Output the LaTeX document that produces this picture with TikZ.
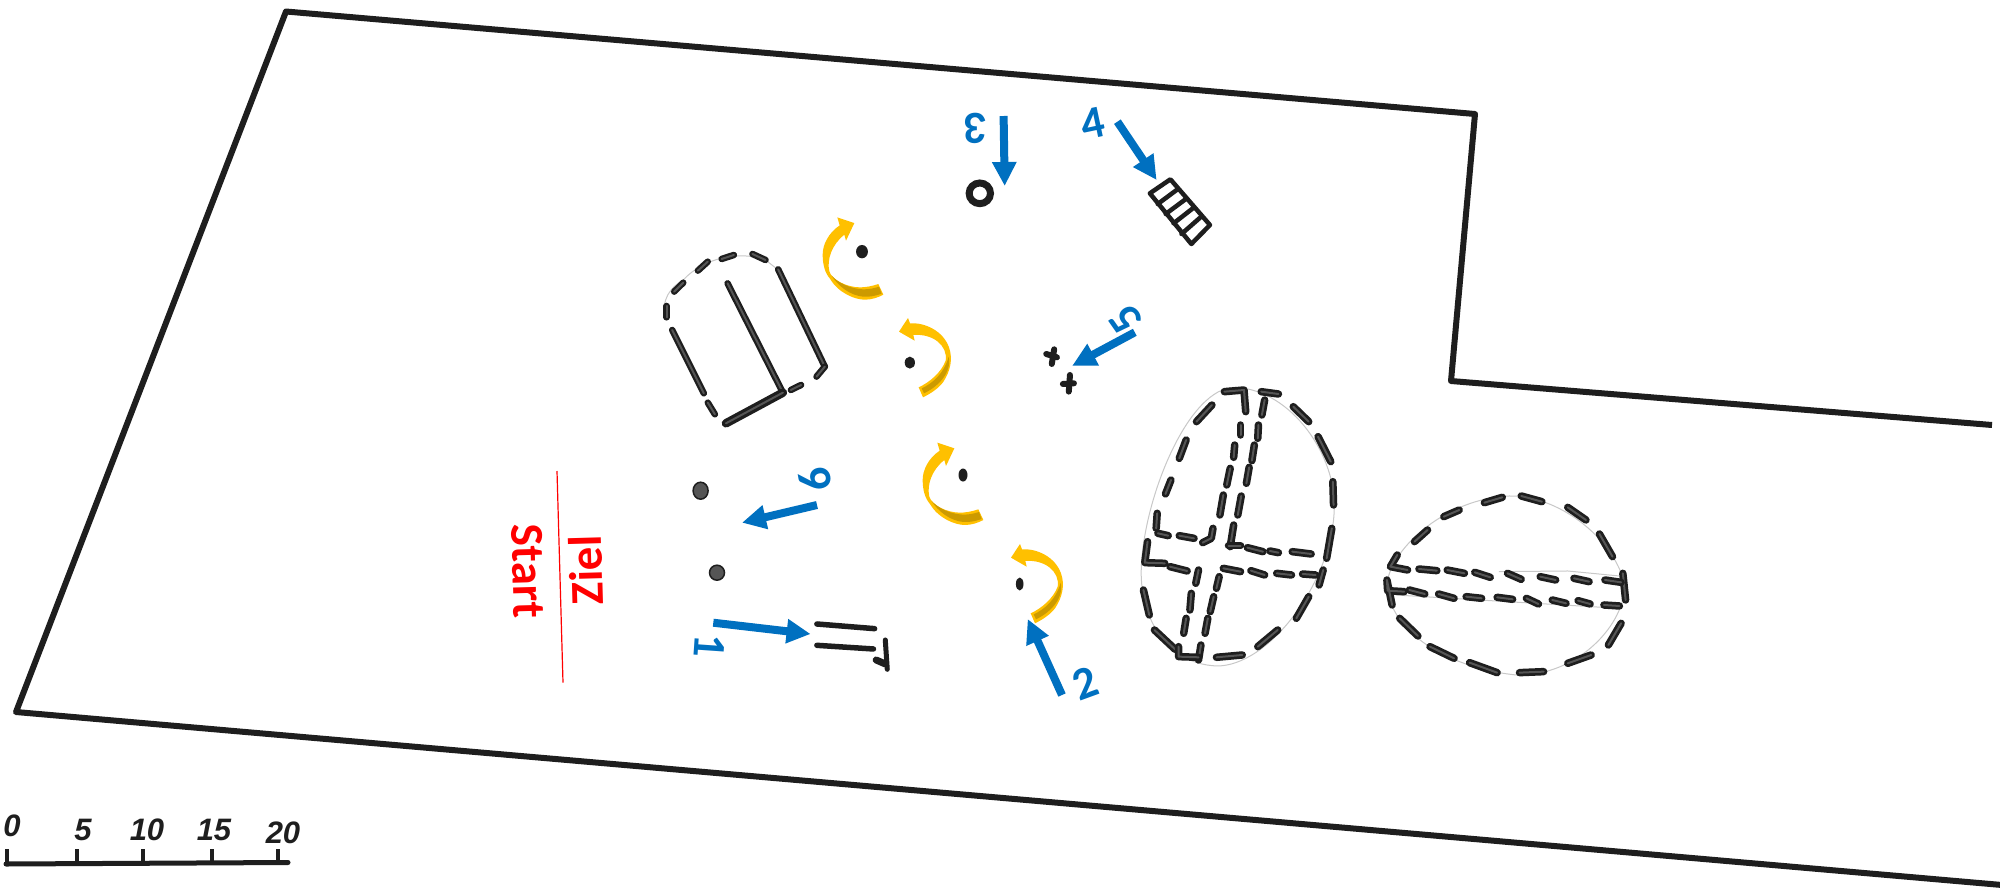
\documentclass[tikz,border=0pt]{standalone}
\usepackage{fontspec}
\setmainfont{Carlito}
\newfontfamily\handfont{Liberation Sans}
\usetikzlibrary{arrows.meta}
\definecolor{ink}{HTML}{1E1E1E}
\definecolor{inkmid}{HTML}{555555}
\definecolor{thin}{HTML}{C8C8C8}
\definecolor{bluearrow}{HTML}{0070C0}
\definecolor{yel}{HTML}{FFC000}
\definecolor{yeldark}{HTML}{CC9A00}
\tikzset{
  wall/.style={draw=ink,line width=6pt,line join=round},
  sk/.style={draw=ink,line width=7.5pt,line cap=round,line join=round,postaction={draw=inkmid,line width=2pt}},
  skthin/.style={draw=ink,line width=4.5pt,line cap=round,line join=round},
  faint/.style={draw=thin,line width=1pt},
  blueA/.style={draw=bluearrow,line width=8pt,-{Triangle[width=23pt,length=24pt]}},
  num/.style={text=bluearrow,font=\fontsize{46}{46}\selectfont\bfseries,inner sep=0pt},
  redtxt/.style={text=red,font=\fontsize{47}{47}\selectfont\bfseries,inner sep=0pt},
  hand/.style={text=ink,font=\handfont\fontsize{31}{31}\selectfont\bfseries\itshape,inner sep=0pt},
  zoomA/.style={shift={(620,80)},x=0.3954pt,y=-0.3333pt},
  zoomB/.style={shift={(1120,370)},x=0.3444pt,y=-0.3333pt},
  zoomC/.style={x=0.3333pt,y=-0.3333pt},
}
\newcommand{\yarrowup}{%
  \fill[yel] (133,55) -- (82,38) -- (89,62) .. controls (55,85) and (38,120) .. (38,150)
    .. controls (38,180) and (45,205) .. (60,222) .. controls (85,265) and (135,285) .. (165,285)
    .. controls (185,285) and (205,278) .. (220,270) -- (205,238)
    .. controls (185,245) and (165,248) .. (150,248) .. controls (110,248) and (65,225) .. (58,200)
    .. controls (50,165) and (65,120) .. (103,90) -- (108,108) -- cycle;
  \fill[yeldark] (64,212) .. controls (85,235) and (120,252) .. (160,254)
    .. controls (178,254) and (195,250) .. (207,246) -- (215,267)
    .. controls (195,274) and (178,277) .. (160,276) .. controls (120,272) and (85,245) .. (64,212) -- cycle;
}
\newcommand{\yarrowdown}{%
  \fill[yel] (33,83) -- (60,42) -- (66,58) .. controls (110,55) and (165,80) .. (183,130)
    .. controls (195,165) and (188,200) .. (165,235) .. controls (150,255) and (125,270) .. (105,280)
    -- (92,250) .. controls (125,235) and (160,205) .. (173,170)
    .. controls (180,125) and (135,88) .. (76,93) -- (80,110) -- cycle;
  \fill[yeldark] (101,253) .. controls (135,238) and (170,205) .. (182,158)
    .. controls (187,180) and (180,205) .. (162,227) .. controls (145,247) and (125,260) .. (108,268) -- cycle;
}
\begin{document}
\begin{tikzpicture}[x=1pt,y=-1pt]
\useasboundingbox (0,0) rectangle (2000,892);
\fill[white] (0,0) rectangle (2000,892);

% plot outline
\draw[wall] (2002,885) -- (16,712) -- (286,11.5) -- (1475,114) -- (1451,381) -- (1992,425);

% red line and texts
\draw[red,line width=1.2pt] (557,471) -- (563,682.7);
\node[redtxt,rotate=-88.4] (start) at (528,571) {Start};
\node[redtxt,rotate=91.6] (ziel) at (586,570) {Ziel};

% D-shaped object
\begin{scope}[zoomA]
  \draw[faint] (118,715) .. controls (100,660) and (130,620) .. (160,600)
     .. controls (210,535) and (300,510) .. (368,540) -- (395,565);
  \begin{scope}[sk/.append style={line width=6.5pt}]
  \foreach \a/\b/\c/\d in {400/568/518/860, 272/610/412/938, 132/750/212/940,
     118/678/118/712, 137/635/160/608, 197/572/222/545, 257/537/288/525, 335/522/368/540,
     432/930/458/915, 222/968/240/1003, 518/860/497/890}
    \draw[sk] (\a,\b) -- (\c,\d);
  \end{scope}
  \draw[sk,line width=8.5pt] (412,938) -- (268,1030);
  % dots
  \fill[ink] (612,515) ellipse (15 and 20);
  \fill[ink] (733,848) ellipse (13 and 18);
  % ring
  \draw[ink,line width=7pt] (910,340) ellipse (27 and 31);
  % steps
  \draw[skthin] (1340,340) -- (1392,298) -- (1492,435) -- (1445,492) -- cycle;
  \foreach \a/\b/\c/\d in {1360/372/1410/328, 1380/402/1430/358, 1400/430/1452/382, 1420/462/1470/410}
    \draw[skthin] (\a,\b) -- (\c,\d);
  % small marks
  \draw[skthin,line width=6pt] (1078,822) -- (1105,832);
  \draw[skthin,line width=6pt] (1098,808) -- (1092,852);
  \draw[skthin,line width=6pt] (1120,912) -- (1148,910);
  \draw[skthin,line width=6pt] (1138,885) -- (1135,935);
\end{scope}

% other dots
\fill[ink] (963,475) ellipse (4.5 and 6.5);
\fill[ink] (1019.7,584) ellipse (3.8 and 6.5);
\draw[ink,line width=1.5pt,fill=inkmid] (700.6,490.7) ellipse (7.5 and 8.5);
\draw[ink,line width=1.5pt,fill=inkmid] (717,572.7) ellipse (7.5 and 7.5);

% small object right of arrow 1
\begin{scope}[shift={(480,430)},x=0.3954pt,y=-0.3333pt]
  \draw[skthin,line width=5.5pt] (852,582) -- (998,596);
  \draw[skthin,line width=5.5pt] (852,646) -- (995,657);
  \draw[skthin,line width=5pt] (1025,630) -- (1030,718);
  \draw[skthin,line width=7pt] (1002,690) -- (1025,702);
\end{scope}

% large ground plan ovals
\begin{scope}[zoomB]
  \draw[faint] (335,52) .. controls (500,60) and (630,260) .. (622,420)
     .. controls (615,640) and (430,890) .. (280,888)
     .. controls (120,880) and (55,720) .. (62,590)
     .. controls (70,380) and (200,50) .. (335,52) -- cycle;
  \draw[faint] (1130,378) .. controls (1270,375) and (1430,500) .. (1465,640)
     .. controls (1470,760) and (1330,920) .. (1150,915)
     .. controls (960,895) and (780,790) .. (775,640)
     .. controls (790,530) and (950,385) .. (1130,378) -- cycle;
  \draw[faint] (1100,605) -- (1300,603) -- (1450,618);
  \draw[faint] (800,675) -- (1400,712);
  % left oval
  \foreach \a/\b/\c/\d in {
     410/65/460/72, 503/110/548/155, 575/200/612/275, 618/335/620/405, 615/475/600/565,
     590/600/578/645, 548/680/512/745, 458/780/400/830, 355/855/280/862,
     160/838/100/780, 85/735/68/660, 148/330/132/372, 192/210/172/265, 267/105/222/155,
     350/165/350/195, 333/225/330/262, 320/295/310/345, 300/375/290/435,
     228/600/220/640, 207/670/203/720, 192/745/185/790,
     420/90/412/135, 402/165/400/205, 390/225/383/272, 375/292/367/340, 352/378/342/435,
     330/465/320/530, 288/620/280/655, 272/680/262/725, 255/745/247/790, 235/825/228/870,
     110/490/140/497, 172/497/215/505, 315/527/350/527, 370/533/415/545,
     435/543/460/548, 500/545/555/552,
     145/590/195/603, 300/595/350/605, 380/602/420/615, 455/610/498/615, 530/612/568/615,
     % right oval
     855/515/893/480, 940/440/985/420, 1058/398/1110/382, 1165/378/1225/395, 1300/412/1353/450,
     1392/492/1430/560, 1460/610/1468/690, 1455/760/1418/825, 1368/855/1300/880, 1230/905/1160/908,
     1095/908/1015/878, 970/865/900/830, 865/798/812/745,
     868/597/920/602, 950/600/1000/610, 1030/607/1075/622, 1125/610/1165/628, 1220/620/1265/630,
     1318/625/1362/635, 1408/630/1455/637,
     840/660/885/672, 925/672/970/685, 1005/680/1050/685, 1095/682/1140/688, 1180/685/1215/702,
     1255/690/1295/700, 1330/692/1365/702, 1405/705/1450/708}
    \draw[sk] (\a,\b) -- (\c,\d);
  \draw[sk] (303,65) -- (360,60) -- (365,125);
  \draw[sk] (170,830) -- (170,860) -- (228,862);
  \draw[sk] (80,515) -- (72,578) -- (130,580);
  \draw[sk] (108,430) -- (105,475);
  \draw[sk] (270,475) -- (265,505) -- (240,518);
  \draw[sk] (805,555) -- (785,590) -- (835,600);
  \draw[sk] (790,705) -- (775,630) -- (777,662) -- (825,665);
\end{scope}

% curved yellow arrows
\begin{scope}[shift={(810,204.7)},zoomC] \yarrowup \end{scope}
\begin{scope}[shift={(910,430)},zoomC] \yarrowup \end{scope}
\begin{scope}[shift={(888,304)},zoomC] \yarrowdown \end{scope}
\begin{scope}[shift={(1000,530)},zoomC] \yarrowdown \end{scope}

% blue arrows and numbers
\draw[blueA] (713.3,622.7) -- (810.6,634);
\draw[blueA] (1062,695) -- (1027.7,619);
\draw[blueA] (1003.6,116) -- (1004.7,186);
\draw[blueA] (1117.4,121.7) -- (1156.6,180);
\draw[blueA] (1134.8,332.3) -- (1072,366);
\draw[blueA] (817,505) -- (742,522.7);
\node[num,rotate=-94] (n1) at (710,646) {1};
\node[num,rotate=20] (n2) at (1085,683) {2};
\node[num,rotate=180] (n3) at (976,128) {3};
\node[num,rotate=12] (n4) at (1093,123) {4};
\node[num,rotate=125] (n5) at (1126,319) {5};
\node[num,rotate=100] (n6) at (815,480) {6};

% scale bar
\draw[ink,line width=5pt,line cap=round] (6,864) -- (288,862.5);
\foreach \x in {7,77,143,212,278}
  \draw[ink,line width=3.5pt] (\x,849) -- (\x,863);
\node[hand] (s0) at (12,826) {0};
\node[hand] (s5) at (83,830) {5};
\node[hand] (s10) at (147,830) {10};
\node[hand] (s15) at (214,830) {15};
\node[hand] (s20) at (283,833) {20};
\end{tikzpicture}
\end{document}
